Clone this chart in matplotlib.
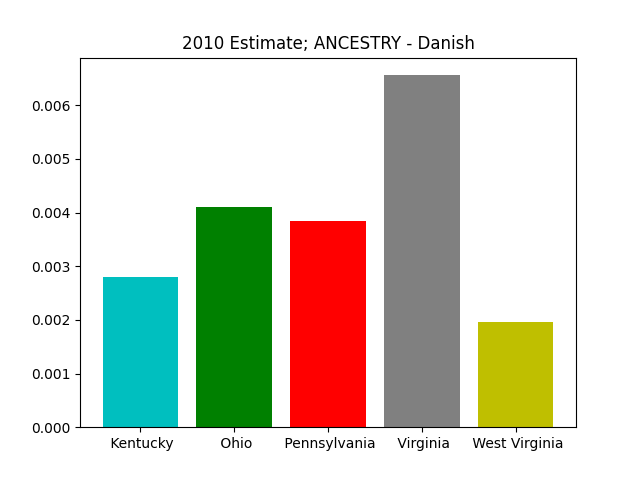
import matplotlib
matplotlib.use("Agg")
import matplotlib.pyplot as plt

states = [" Kentucky", " Ohio", " Pennsylvania", " Virginia", " West Virginia"]
values = [0.0028, 0.0041, 0.00384, 0.00656, 0.00196]
colors = ['c', 'g', 'r', 'gray', 'y']

fig, ax = plt.subplots(figsize=(6.4, 4.8), dpi=100)
ax.bar(range(len(states)), values, color=colors)
ax.set_xticks(range(len(states)))
ax.set_xticklabels(states)
ax.set_title("2010 Estimate; ANCESTRY - Danish")
fig.savefig("out.png")
